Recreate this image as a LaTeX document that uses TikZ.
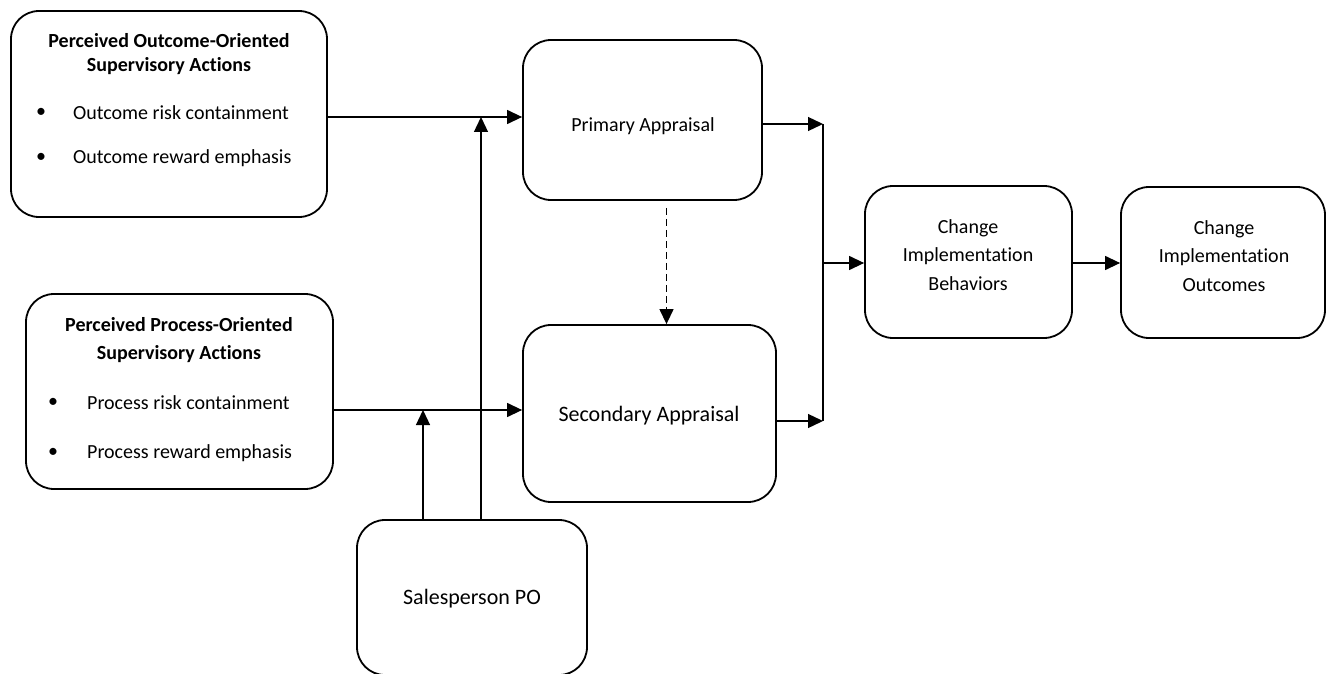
\documentclass[tikz,border=0pt]{standalone}
\usepackage{fontspec}
\setmainfont{Carlito}[Ligatures=NoCommon]
\usetikzlibrary{arrows.meta}

\begin{document}
\begin{tikzpicture}[x=1pt, y=-1pt,
  box/.style={draw, rounded corners=28pt, line width=1.8pt, inner sep=0pt},
  txt/.style={font=\fontsize{20}{24}\selectfont, inner sep=0pt, align=center},
  headtxt/.style={font=\bfseries\fontsize{20}{24}\selectfont, inner sep=0pt, align=center},
  bigtxt/.style={font=\fontsize{22}{26}\selectfont, inner sep=0pt},
  link/.style={line width=1.3pt, -{Triangle[length=15pt,width=14pt]}},
  plain/.style={line width=1.3pt}]

\useasboundingbox (0,0) rectangle (1326,674);

% Draw the two boxes of supervisory actions
\node [box, minimum width=316, minimum height=206] (outcome) at (169,114) {};
\node [headtxt] at (169,54) {Perceived Outcome-Oriented\\Supervisory Actions};
\node [txt] at (41,113) {•};
\node [txt, anchor=west] at (73,113) {Outcome risk containment};
\node [txt] at (41,158) {•};
\node [txt, anchor=west] at (73,158) {Outcome reward emphasis};

\node [box, minimum width=307, minimum height=195] (process) at (179.5,391.5) {};
\node [headtxt, font=\bfseries\fontsize{20}{28}\selectfont] at (179,340) {Perceived Process-Oriented\\Supervisory Actions};
\node [txt] at (53,403) {•};
\node [txt, anchor=west] at (87,403) {Process risk containment};
\node [txt] at (53,453) {•};
\node [txt, anchor=west] at (87,453) {Process reward emphasis};

% Appraisals, moderator and outcomes
\node [box, minimum width=239, minimum height=160] (primary) at (642.5,120) {};
\node [txt] at (643,126) {Primary Appraisal};
\node [box, minimum width=253, minimum height=177] (secondary) at (649.5,413.5) {};
\node [bigtxt] at (649,416) {Secondary Appraisal};
\node [box, minimum width=230, minimum height=155] (po) at (472,597.5) {};
\node [bigtxt] at (472,599) {Salesperson PO};
\node [box, minimum width=207, minimum height=152] (behav) at (968.5,262) {};
\node [txt, font=\fontsize{20}{28.5}\selectfont] at (968,255) {Change\\Implementation\\Behaviors};
\node [box, minimum width=204, minimum height=151] (result) at (1223,262.5) {};
\node [txt, font=\fontsize{20}{28.5}\selectfont] at (1224,256) {Change\\Implementation\\Outcomes};

% junction points
\coordinate (mtop) at (481,117);
\coordinate (mbot) at (423,410);
\coordinate (jpri) at (823,124);
\coordinate (jsec) at (823,421);
\coordinate (merge) at (823,263);

% Draw the links
\draw [link] (outcome.east |- mtop) -- (mtop -| primary.west);
\draw [link] (process.east |- mbot) -- (mbot -| secondary.west);
\draw [link] (po.north -| mtop) -- (mtop);
\draw [link] (po.north -| mbot) -- (mbot);

\draw [link, dash pattern=on 7pt off 4pt] ([xshift=24pt, yshift=-7pt]primary.south) -- ([xshift=24pt]primary.south |- secondary.north);

\draw [link] (primary.east |- jpri) -- (jpri);
\draw [link] (secondary.east |- jsec) -- (jsec);
\draw [plain] (jpri) -- (jsec);
\draw [link] (merge) -- (merge -| behav.west);
\draw [link] (behav.east |- merge) -- (merge -| result.west);

\end{tikzpicture}
\end{document}
